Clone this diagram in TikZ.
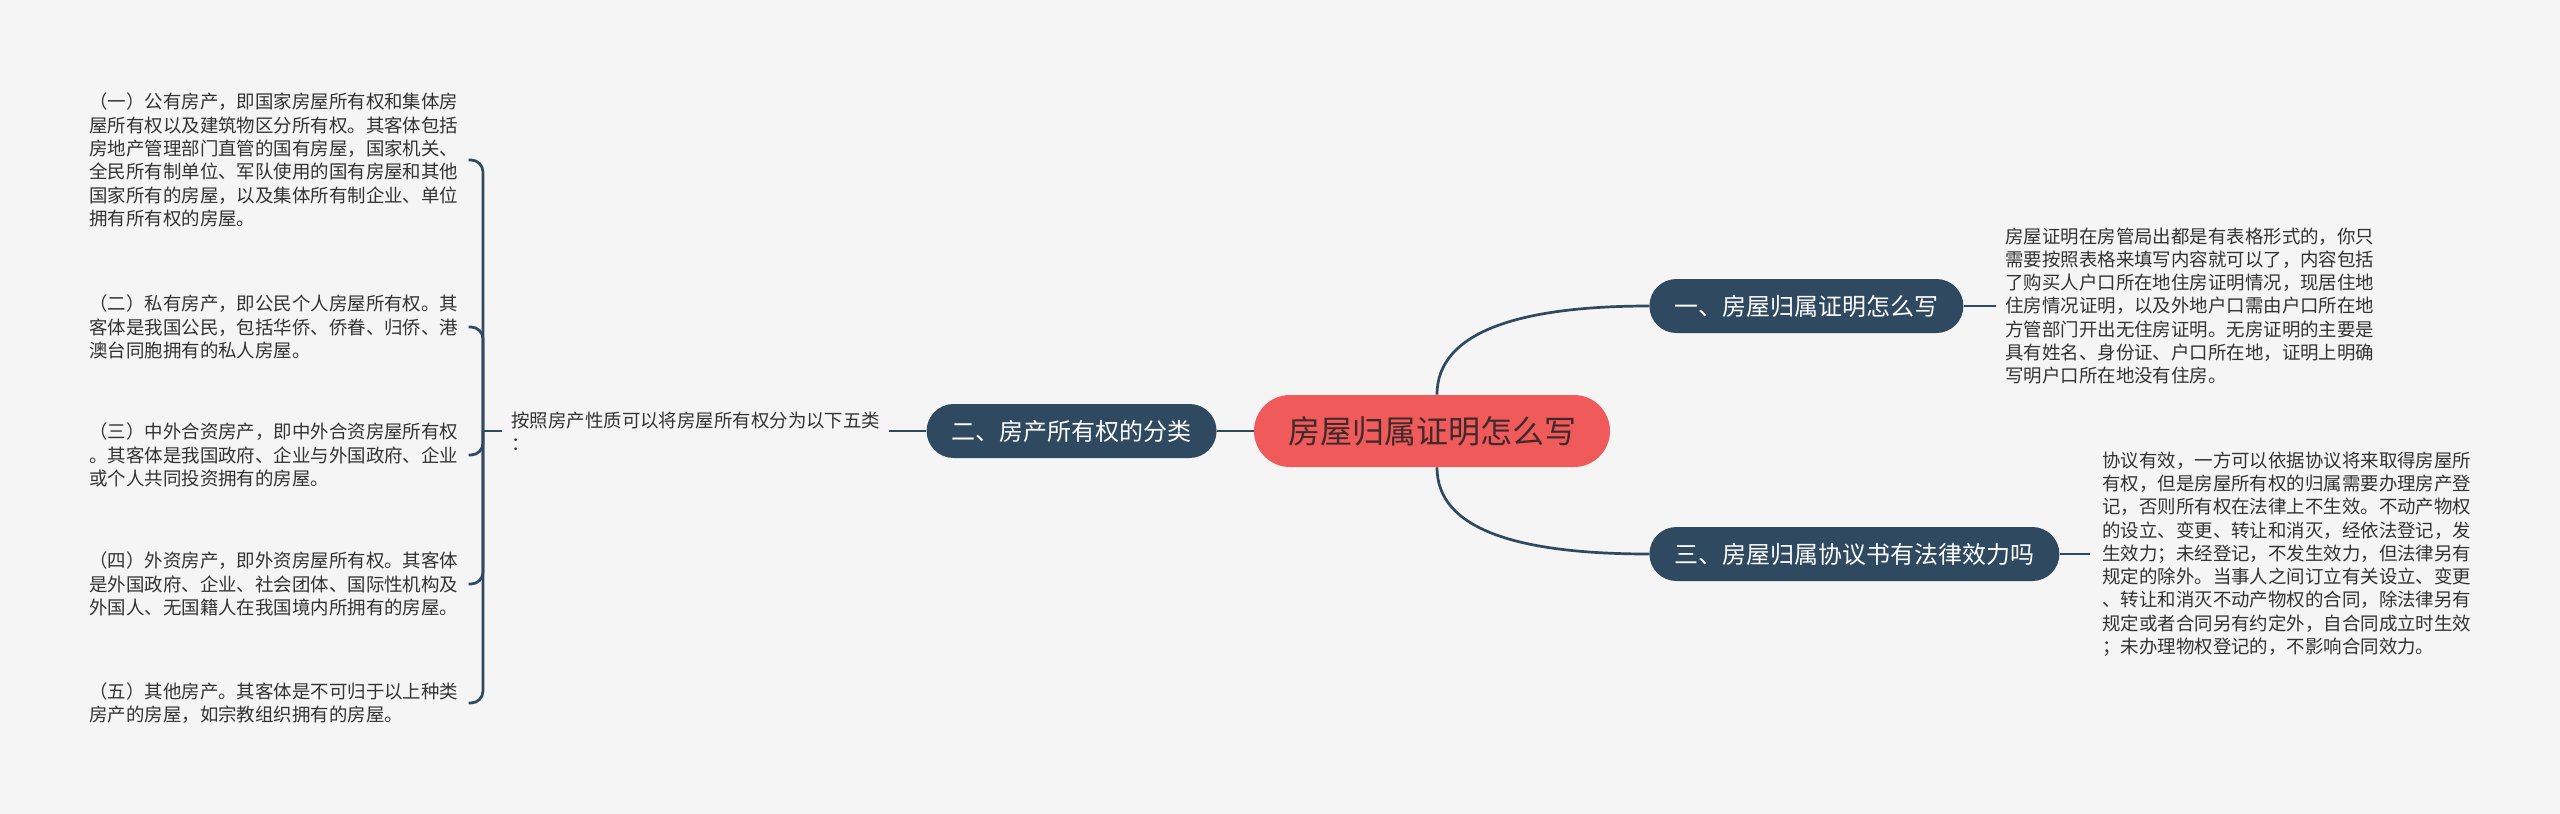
\documentclass[tikz,border=0pt]{standalone}
\usepackage{fontspec}
\setmainfont{Noto Sans CJK SC}
\definecolor{bgray}{HTML}{F5F5F5}
\definecolor{topicblue}{HTML}{2F4960}
\definecolor{rootred}{HTML}{F05A5A}
\definecolor{roottext}{HTML}{3E2A2A}
\definecolor{leaftext}{HTML}{333333}
\begin{document}
\begin{tikzpicture}[x=0.5pt,y=-0.5pt,
  link/.style={draw=topicblue,line width=1.35pt},
  topic/.style={fill=topicblue,text=white,rounded corners=13.5pt,minimum height=27pt,
    inner xsep=12.5pt,inner ysep=0pt,font=\fontsize{12}{14}\selectfont},
  leaf/.style={align=left,inner sep=0pt,text=leaftext,font=\fontsize{9.22}{11.65}\selectfont}]
\fill[bgray] (0,0) rectangle (2560,814);
\useasboundingbox (0,0) rectangle (2560,814);

\node[fill=rootred,text=roottext,rounded corners=18pt,minimum width=178pt,minimum height=36pt,
  font=\fontsize{16}{19}\selectfont] (root) at (1432,431) {房屋归属证明怎么写};

\node[topic,anchor=west] (b1) at (1649,306) {一、房屋归属证明怎么写};
\node[topic,anchor=east] (b2) at (1217,431) {二、房产所有权的分类};
\node[topic,anchor=west] (b3) at (1649,554) {三、房屋归属协议书有法律效力吗};

\node[leaf,anchor=west] (mid) at (511,431) {按照房产性质可以将房屋所有权分为以下五类\\：};

\node[leaf,anchor=west] (p1) at (89,160) {（一）公有房产，即国家房屋所有权和集体房\\屋所有权以及建筑物区分所有权。其客体包括\\房地产管理部门直管的国有房屋，国家机关、\\全民所有制单位、军队使用的国有房屋和其他\\国家所有的房屋，以及集体所有制企业、单位\\拥有所有权的房屋。};
\node[leaf,anchor=west] (p2) at (89,327) {（二）私有房产，即公民个人房屋所有权。其\\客体是我国公民，包括华侨、侨眷、归侨、港\\澳台同胞拥有的私人房屋。};
\node[leaf,anchor=west] (p3) at (89,455) {（三）中外合资房产，即中外合资房屋所有权\\。其客体是我国政府、企业与外国政府、企业\\或个人共同投资拥有的房屋。};
\node[leaf,anchor=west] (p4) at (89,584) {（四）外资房产，即外资房屋所有权。其客体\\是外国政府、企业、社会团体、国际性机构及\\外国人、无国籍人在我国境内所拥有的房屋。};
\node[leaf,anchor=west] (p5) at (89,703) {（五）其他房产。其客体是不可归于以上种类\\房产的房屋，如宗教组织拥有的房屋。};

\node[leaf,anchor=west] (d1) at (2005,306) {房屋证明在房管局出都是有表格形式的，你只\\需要按照表格来填写内容就可以了，内容包括\\了购买人户口所在地住房证明情况，现居住地\\住房情况证明，以及外地户口需由户口所在地\\方管部门开出无住房证明。无房证明的主要是\\具有姓名、身份证、户口所在地，证明上明确\\写明户口所在地没有住房。};
\node[leaf,anchor=west] (d3) at (2102,554) {协议有效，一方可以依据协议将来取得房屋所\\有权，但是房屋所有权的归属需要办理房产登\\记，否则所有权在法律上不生效。不动产物权\\的设立、变更、转让和消灭，经依法登记，发\\生效力；未经登记，不发生效力，但法律另有\\规定的除外。当事人之间订立有关设立、变更\\、转让和消灭不动产物权的合同，除法律另有\\规定或者合同另有约定外，自合同成立时生效\\；未办理物权登记的，不影响合同效力。};

\coordinate (j) at (483,431);
\foreach \i in {1,...,5}
  \draw[link,rounded corners=6pt] ([xshift=5pt]p\i.east) -- (j |- p\i.east) -- (j);
\draw[link] (j) -- ([xshift=-4.5pt]mid.west);
\draw[link] ([xshift=4pt]mid.east) -- (b2.west);
\draw[link] (b2.east) -- (root.west);
\draw[link] ([xshift=2.5pt]root.north) .. controls +(0,-63) and +(-129,0) .. (b1.west);
\draw[link] ([xshift=2.5pt]root.south) .. controls +(0,63) and +(-129,0) .. (b3.west);
\draw[link] (b1.east) -- ([xshift=-4.5pt]d1.west);
\draw[link] (b3.east) -- ([xshift=-6pt]d3.west);
\end{tikzpicture}
\end{document}
